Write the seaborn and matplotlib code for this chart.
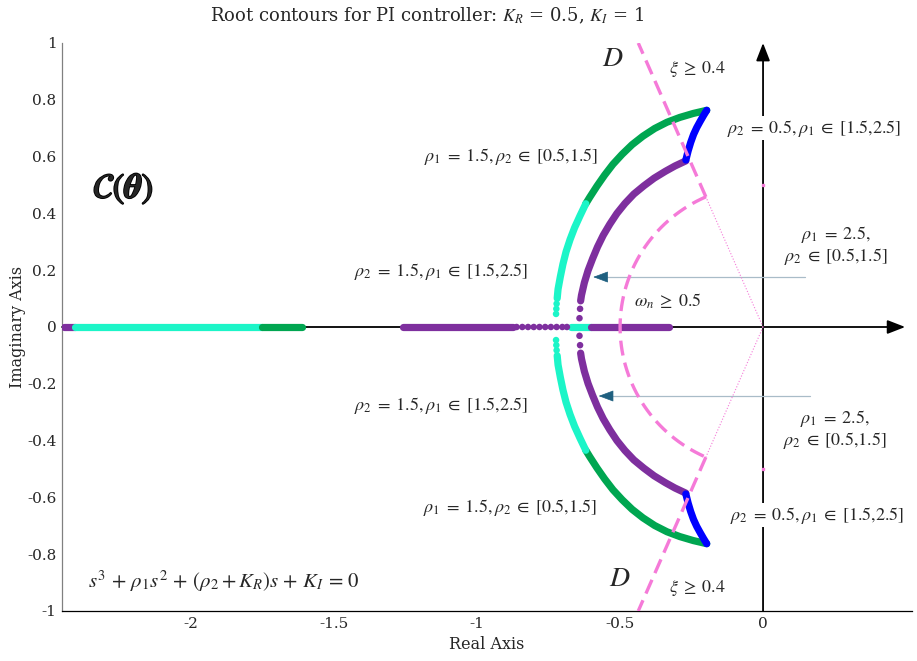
import numpy as np
import matplotlib
matplotlib.use("Agg")
import matplotlib.pyplot as plt
import matplotlib.patheffects as pe
import seaborn as sns

# ---------------- data ----------------
# upper half of the complex root contours (lower half is the conjugate)
green_arc_x = [-0.197, -0.244, -0.291, -0.336, -0.379, -0.420, -0.458, -0.493, -0.525,
               -0.554, -0.581, -0.606, -0.620]
green_arc_y = [0.763, 0.752, 0.738, 0.721, 0.699, 0.672, 0.642, 0.608, 0.573,
               0.535, 0.496, 0.457, 0.434]
cyan_arc_x = [-0.620, -0.640, -0.659, -0.675, -0.689, -0.700, -0.709, -0.717, -0.720]
cyan_arc_y = [0.434, 0.392, 0.350, 0.308, 0.265, 0.221, 0.177, 0.133, 0.101]
cyan_dots_x = [-0.722, -0.723, -0.724]
cyan_dots_y = [0.082, 0.064, 0.046]
purple_arc_x = [-0.270, -0.308, -0.342, -0.381, -0.417, -0.452, -0.483, -0.511, -0.536,
                -0.559, -0.579, -0.596, -0.612, -0.625, -0.635, -0.638]
purple_arc_y = [0.585, 0.567, 0.548, 0.524, 0.497, 0.468, 0.435, 0.400, 0.362,
                0.323, 0.282, 0.241, 0.199, 0.156, 0.112, 0.092]
purple_dots_x = [-0.640, -0.642]
purple_dots_y = [0.064, 0.031]
blue_arc_x = [-0.197, -0.208, -0.220, -0.232, -0.243, -0.253, -0.262, -0.270]
blue_arc_y = [0.763, 0.745, 0.724, 0.702, 0.678, 0.650, 0.620, 0.588]

# real roots (segments on the real axis)
real_segments = [
    ("purple", -2.445, -2.405),
    ("cyan", -2.405, -1.752),
    ("green", -1.752, -1.612),
    ("purple", -1.258, -0.874),
    ("cyan", -0.672, -0.600),
    ("purple", -0.600, -0.328),
]
purple_real_dots = [-0.862, -0.842, -0.822, -0.802, -0.782, -0.762, -0.742, -0.722, -0.702, -0.686]

xi_min = 0.4
wn_min = 0.5

colors = {"green": "#00A651", "cyan": "#1CF5C8", "purple": "#7E2F9E",
          "blue": "#0000FF", "pink": "#F57AD8"}

# ---------------- figure ----------------
sns.set_theme(style="white")
plt.rcParams["font.family"] = ["DejaVu Serif"]
plt.rcParams["mathtext.fontset"] = "stix"
plt.rcParams["axes.unicode_minus"] = False

fig = plt.figure(figsize=(9.17, 6.61), dpi=100)
ax = fig.add_axes([62 / 917, 50 / 661, 850 / 917, 568 / 661])
ax.set_xlim(-2.452, 0.521)
ax.set_ylim(-1, 1)

# axes styling (MATLAB-like)
for s in ["top", "right"]:
    ax.spines[s].set_visible(False)
ax.spines["left"].set_color("#808080")
ax.spines["bottom"].set_color("black")
ax.spines["left"].set_linewidth(0.9)
ax.spines["bottom"].set_linewidth(0.9)
ax.set_xticks([-2, -1.5, -1, -0.5, 0])
ax.set_xticklabels(["-2", "-1.5", "-1", "-0.5", "0"])
yt = [-1, -0.8, -0.6, -0.4, -0.2, 0, 0.2, 0.4, 0.6, 0.8, 1]
ax.set_yticks(yt)
ax.set_yticklabels(["-1", "-0.8", "-0.6", "-0.4", "-0.2", "0", "0.2", "0.4", "0.6", "0.8", "1"])
ax.tick_params(direction="in", length=4, color="#c8c8c8", labelsize=11, pad=4)
ax.set_xlabel("Real Axis", fontsize=11.5, labelpad=4)
ax.set_ylabel("Imaginary Axis", fontsize=11.5, labelpad=1)
ax.grid(False)

# black coordinate axes with arrows
ax.annotate("", xy=(0.497, 0), xytext=(-2.452, 0),
            arrowprops=dict(arrowstyle="-|>,head_length=0.9,head_width=0.35", color="black", lw=1.3,
                            shrinkA=0, shrinkB=0), zorder=1)
ax.annotate("", xy=(0, 1.0), xytext=(0, -1.0),
            arrowprops=dict(arrowstyle="-|>,head_length=0.9,head_width=0.35", color="black", lw=1.3,
                            shrinkA=0, shrinkB=0), zorder=1)

# info arrows (light shaft, dark head)
arrow_rows = [(0.147, -0.594, 0.176), (0.164, -0.575, -0.243)]
for x0, x1, yy in arrow_rows:
    ax.plot([x0, x1 + 0.02], [yy, yy], color="#A9BCC8", lw=0.9, zorder=2)
    ax.annotate("", xy=(x1, yy), xytext=(x1 + 0.045, yy),
                arrowprops=dict(arrowstyle="-|>,head_length=0.8,head_width=0.3",
                                color="#1F6080", lw=0.5, shrinkA=0, shrinkB=0), zorder=3)

LW = 5.2
def arc(xs, ys, c):
    for sign in (1, -1):
        sns.lineplot(x=xs, y=[sign * v for v in ys], sort=False, estimator=None, ax=ax,
                     color=colors[c], lw=LW, solid_capstyle="round", solid_joinstyle="round",
                     zorder=4, legend=False)

def dots(xs, ys, c):
    for sign in (1, -1):
        sns.scatterplot(x=xs, y=[sign * v for v in ys], ax=ax, color=colors[c], s=22,
                        edgecolor="none", zorder=4, legend=False)

arc(green_arc_x, green_arc_y, "green")
arc(cyan_arc_x, cyan_arc_y, "cyan")
dots(cyan_dots_x, cyan_dots_y, "cyan")
arc(purple_arc_x, purple_arc_y, "purple")
dots(purple_dots_x, purple_dots_y, "purple")
arc(blue_arc_x, blue_arc_y, "blue")

for c, a, b in real_segments:
    sns.lineplot(x=[a, b], y=[0, 0], ax=ax, color=colors[c], lw=LW,
                 solid_capstyle="round", zorder=4, legend=False)
sns.scatterplot(x=purple_real_dots, y=[0] * len(purple_real_dots), ax=ax,
                color=colors["purple"], s=22, edgecolor="none", zorder=4, legend=False)

# constraint region D: xi >= 0.4, wn >= 0.5
phi = np.arccos(xi_min)
ang = np.linspace(np.pi - phi, np.pi + phi, 200)
ax.plot(wn_min * np.cos(ang), wn_min * np.sin(ang), color=colors["pink"], lw=2.4,
        dashes=(4.5, 2.2), zorder=5)
for sign in (1, -1):
    r_end = 1.0 / np.sin(phi)
    ax.plot([-wn_min * np.cos(phi), -r_end * np.cos(phi)],
            [sign * wn_min * np.sin(phi), sign * r_end * np.sin(phi)],
            color=colors["pink"], lw=2.4, dashes=(4.5, 2.2), zorder=5)
    ax.plot([0, -wn_min * np.cos(phi)], [0, sign * wn_min * np.sin(phi)],
            color=colors["pink"], lw=0.8, ls=":", zorder=5)
    ax.plot([0], [sign * wn_min], marker="s", ms=1.5, color=colors["pink"], zorder=5)

# ---------------- text ----------------
fs = 13
lab = dict(fontsize=fs, ha="center", va="center", zorder=6)
t15 = r"$\rho_1 \;=\; 1.5, \rho_2 \;\in\; [0.5{,}1.5]$"
t25 = r"$\rho_2 \;=\; 1.5, \rho_1 \;\in\; [1.5{,}2.5]$"
t05 = r"$\rho_2 \;=\; 0.5, \rho_1 \;\in\; [1.5{,}2.5]$"
t2 = r"$\rho_1 \;=\; 2.5,$" + "\n" + r"$\rho_2 \;\in\; [0.5{,}1.5]$"
ax.text(-0.881, 0.599, t15, **lab)
ax.text(-0.885, -0.637, t15, **lab)
ax.text(-1.126, 0.197, t25, **lab)
ax.text(-1.126, -0.278, t25, **lab)
bb = dict(facecolor="white", edgecolor="none", pad=1.0)
ax.text(0.178, 0.70, t05, bbox=bb, **lab)
ax.text(0.19, -0.662, t05, bbox=bb, **lab)
ax.text(0.255, 0.288, t2, multialignment="center", linespacing=1.05, **lab)
ax.text(0.252, -0.36, t2, multialignment="center", linespacing=1.05, **lab)
ax.text(-0.332, 0.092, r"$\omega_n \;\geq\; 0.5$", **lab)
ax.text(-0.231, 0.908, r"$\xi \;\geq\; 0.4$", **lab)
ax.text(-0.231, -0.919, r"$\xi \;\geq\; 0.4$", **lab)
ax.text(-0.524, 0.944, r"$D$", fontsize=20, ha="center", va="center")
ax.text(-0.50, -0.887, r"$D$", fontsize=20, ha="center", va="center")
ax.text(-2.238, 0.486, r"$\mathcal{C}(\mathbfit{\theta})$", fontsize=25, ha="center", va="center",
        path_effects=[pe.withStroke(linewidth=1.3, foreground="black")])
ax.text(-2.36, -0.894, r"$s^3 \,+\, \rho_1 s^2 \,+\, (\rho_2 + K_R)s \,+\, K_I \,=\, 0$", fontsize=15,
        ha="left", va="center")

fig.text(427 / 917, 1 - 16 / 661, r"Root contours for PI controller: $K_R$ = 0.5, $K_I$ = 1",
         fontsize=13, ha="center", va="center")

fig.savefig("out.png", dpi=100, facecolor="white")
